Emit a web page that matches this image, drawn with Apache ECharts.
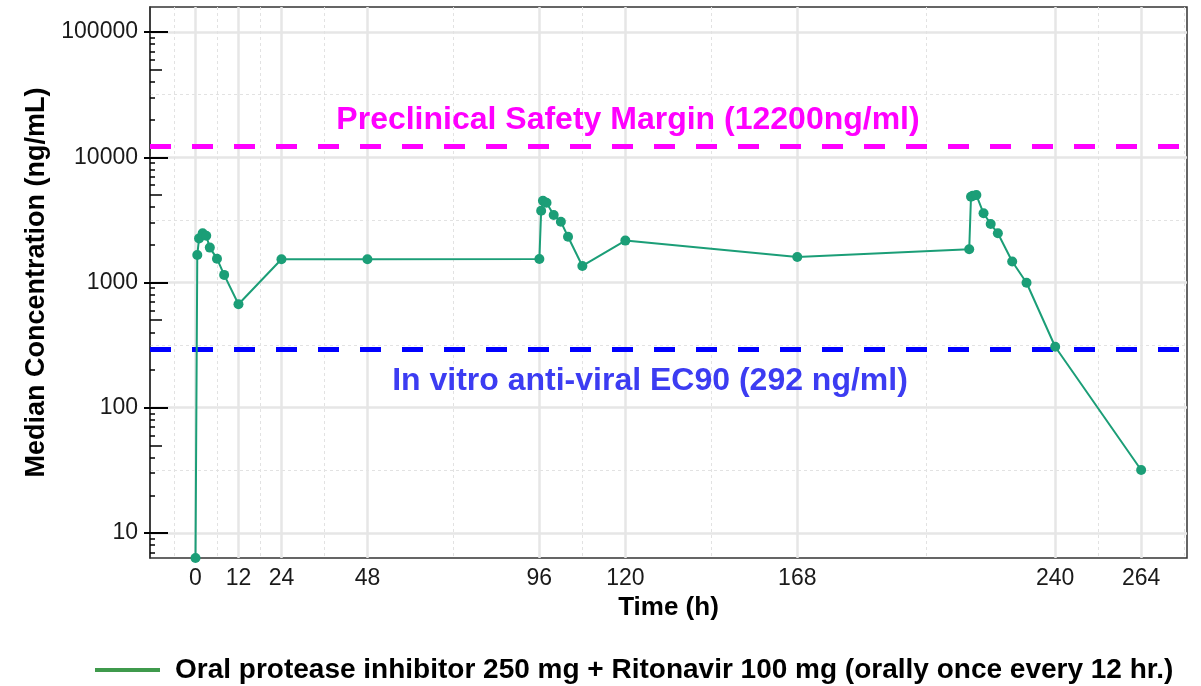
<!DOCTYPE html>
<html>
<head>
<meta charset="utf-8">
<title>Median Concentration</title>
<style>
  html, body { margin: 0; padding: 0; background: #fff; }
  #main { width: 1201px; height: 686px; }
</style>
</head>
<body>
<div id="main"></div>
<script src="https://cdn.jsdelivr.net/npm/echarts@6/dist/echarts.min.js"></script>
<script type="text/javascript">
    // time (h) and median concentration (ng/mL)
    var times = [0, 0.5, 1, 2, 3, 4, 6, 8, 12, 24, 48,
        96, 96.5, 97, 98, 100, 102, 104, 108, 120, 168,
        216, 216.5, 217, 218, 220, 222, 224, 228, 232, 240, 264];
    var conc = [6.3, 1660, 2250, 2470, 2360, 1900, 1550, 1150, 670, 1535, 1535,
        1540, 3740, 4500, 4330, 3460, 3060, 2320, 1355, 2160, 1600,
        1840, 4840, 4930, 4990, 3570, 2930, 2470, 1470, 995, 307, 31.8];

    var xTicks = [0, 12, 24, 48, 96, 120, 168, 240, 264];
    var xMinor = [-6, 6, 18, 36, 72, 108, 144, 204, 252, 276];
    var yTicks = [10, 100, 1000, 10000, 100000];
    var yMinor = [31.6, 316, 3162, 31623];

    var safetyMargin = 12200;
    var ec90 = 292;
    var seriesName = 'Oral protease inhibitor 250 mg + Ritonavir 100 mg (orally once every 12 hr.)';

    var yMin = 6.31, yMax = 158489;

    // log minor ticks 2..9 of each decade
    var smallTicks = [], fiveTicks = [];
    [1, 10, 100, 1000, 10000, 100000].forEach(function (d) {
        [2, 3, 4, 6, 7, 8, 9].forEach(function (k) {
            if (k * d > yMin && k * d < yMax) smallTicks.push(k * d);
        });
        if (5 * d > yMin && 5 * d < yMax) fiveTicks.push(5 * d);
    });

    var points = times.map(function (t, i) { return [t, conc[i]]; });

    var font = 'Arial, "Liberation Sans", sans-serif';

    function yAxisBase(extra) {
        var a = {
            type: 'log',
            logBase: 10,
            min: yMin,
            max: yMax,
            position: 'left',
            offset: 0,
            axisLine: { show: false, onZero: false },
            axisLabel: { show: false },
            axisTick: { show: false },
            splitLine: { show: false },
            minorTick: { show: false },
            minorSplitLine: { show: false }
        };
        for (var k in extra) a[k] = extra[k];
        return a;
    }

    var myChart = echarts.init(document.getElementById('main'), null, { renderer: 'canvas' });
    var option = {
        backgroundColor: '#ffffff',
        animation: false,
        grid: {
            left: 150, top: 7, right: 14, bottom: 128,
            show: true,
            backgroundColor: '#ffffff',
            borderColor: '#333333',
            borderWidth: 1.5
        },
        legend: {
            left: 90,
            top: 651,
            icon: 'rect',
            itemWidth: 65,
            itemHeight: 4,
            data: [{ name: seriesName, itemStyle: { color: '#3f9a4c' } }],
            textStyle: {
                fontFamily: font,
                fontWeight: 'bold',
                fontSize: 28,
                color: '#000',
                padding: [0, 0, 0, 10]
            }
        },
        xAxis: [
            {
                type: 'value',
                min: -12.7,
                max: 276.8,
                name: 'Time (h)',
                nameLocation: 'middle',
                nameGap: 35,
                nameTextStyle: { fontFamily: font, fontWeight: 'bold', fontSize: 26, color: '#000' },
                axisLine: { show: false, onZero: false },
                axisTick: { show: false, customValues: xTicks },
                axisLabel: {
                    customValues: xTicks,
                    fontFamily: font, fontSize: 23, color: '#1a1a1a', margin: 9
                },
                splitLine: { show: true, lineStyle: { color: '#e6e6e6', width: 2.5 } }
            },
            {
                type: 'value',
                min: -12.7,
                max: 276.8,
                position: 'bottom',
                axisLine: { show: false, onZero: false },
                axisTick: { show: false, customValues: xMinor },
                axisLabel: { show: false },
                splitLine: { show: true, lineStyle: { color: '#e2e2e2', width: 1, type: [3, 3] } }
            }
        ],
        yAxis: [
            yAxisBase({
                name: 'Median Concentration (ng/mL)',
                nameLocation: 'middle',
                nameGap: 100,
                nameTextStyle: { fontFamily: font, fontWeight: 'bold', fontSize: 27, color: '#000' },
                axisLine: { show: true, onZero: false, lineStyle: { color: '#333333', width: 1.5 } },
                axisTick: { show: true, customValues: yTicks, length: 6, lineStyle: { color: '#000', width: 2 } },
                axisLabel: {
                    show: true,
                    customValues: yTicks,
                    formatter: function (v) { return String(Math.round(v)); },
                    fontFamily: font, fontSize: 23, color: '#1a1a1a', margin: 12
                },
                splitLine: { show: true, lineStyle: { color: '#e6e6e6', width: 2.5 } }
            }),
            yAxisBase({
                axisTick: { show: true, inside: true, customValues: yTicks, length: 18, lineStyle: { color: '#000', width: 2 } }
            }),
            yAxisBase({
                axisTick: { show: true, inside: true, customValues: smallTicks, length: 5, lineStyle: { color: '#000', width: 1.5 } }
            }),
            yAxisBase({
                axisTick: { show: true, inside: true, customValues: fiveTicks, length: 12, lineStyle: { color: '#000', width: 1.5 } }
            }),
            yAxisBase({
                axisTick: { show: false, customValues: yMinor },
                splitLine: { show: true, lineStyle: { color: '#e2e2e2', width: 1, type: [3, 3] } }
            })
        ],
        graphic: [
            {
                type: 'text', x: 628, y: 120, z: 10,
                style: {
                    text: 'Preclinical Safety Margin (12200ng/ml)',
                    fill: '#ff00ff',
                    font: 'bold 32px ' + font,
                    align: 'center',
                    verticalAlign: 'middle'
                }
            },
            {
                type: 'text', x: 650, y: 381, z: 10,
                style: {
                    text: 'In vitro anti-viral EC90 (292 ng/ml)',
                    fill: '#3c3cf2',
                    font: 'bold 32px ' + font,
                    align: 'center',
                    verticalAlign: 'middle'
                }
            }
        ],
        series: [
            {
                name: seriesName,
                type: 'line',
                xAxisIndex: 0,
                yAxisIndex: 0,
                data: points,
                symbol: 'circle',
                symbolSize: 10,
                color: '#1b9e77',
                lineStyle: { color: '#1b9e77', width: 2 },
                itemStyle: { color: '#1b9e77' },
                z: 5,
                markLine: {
                    silent: true,
                    symbol: ['none', 'none'],
                    label: { show: false },
                    z: 4,
                    data: [
                        { yAxis: safetyMargin, lineStyle: { color: '#ff00ff', width: 5, type: [21, 21] } },
                        { yAxis: ec90, lineStyle: { color: '#0000ff', width: 5, type: [21, 21] } }
                    ]
                }
            }
        ]
    };
    myChart.setOption(option);
</script>
</body>
</html>
